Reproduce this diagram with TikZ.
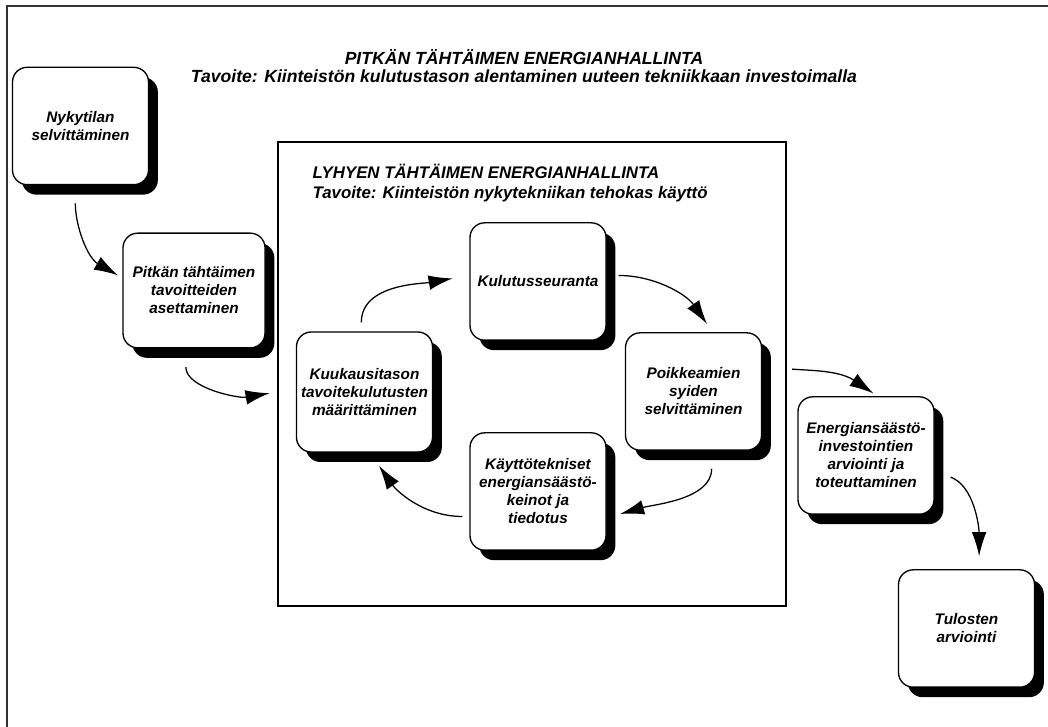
\documentclass[tikz,border=0pt]{standalone}
\usepackage{fontspec}
\setmainfont{Liberation Sans}
\usetikzlibrary{arrows.meta,shadows}

\begin{document}
\begin{tikzpicture}[x=0.75pt,y=0.75pt,
    font=\fontsize{11.5}{13.5}\selectfont\bfseries\itshape,
    box/.style={draw,line width=1pt,fill=white,rounded corners=11pt,align=center,
      minimum width=102pt,minimum height=88pt,inner sep=2pt,
      drop shadow={fill=black,opacity=1,shadow xshift=7pt,shadow yshift=-7.5pt}},
    flow/.style={-{Latex[length=18pt,width=11pt]},line width=0.95pt}]
    \useasboundingbox (0,0) rectangle (1048,727);
    \draw[line width=1.5pt,black!80] (7,-10) -- (7,721) -- (1060,721);
    \node[draw,line width=0.9pt,minimum width=381pt,minimum height=348pt] (lyhyt) at (532,353) {};
    \node[align=center,font=\fontsize{13.2}{13.5}\selectfont\bfseries\itshape] (pitkatitle) at (524,661) {PITKÄN TÄHTÄIMEN ENERGIANHALLINTA\\Tavoite: Kiinteistön kulutustason alentaminen uuteen tekniikkaan investoimalla};
    \node[anchor=west,align=left,font=\fontsize{12.6}{15}\selectfont\bfseries\itshape] (lyhyttitle) at (308,544) {LYHYEN TÄHTÄIMEN ENERGIANHALLINTA\\Tavoite: Kiinteistön nykytekniikan tehokas käyttö};
    \node[box] (nyk) at (80.5,601) {Nykytilan\\selvittäminen};
    \node[box,minimum width=106.5pt,minimum height=86pt] (pit) at (194,436.5) {Pitkän tähtäimen\\tavoitteiden\\asettaminen};
    \node[box] (kul) at (538,445.5) {Kulutusseuranta};
    \node[box,minimum height=90pt] (kuu) at (364.5,335) {Kuukausitason\\tavoitekulutusten\\määrittäminen};
    \node[box] (poi) at (693.5,335.5) {Poikkeamien\\syiden\\selvittäminen};
    \node[box] (kay) at (538,235.5) {Käyttötekniset\\energiansäästö-\\keinot ja\\tiedotus};
    \node[box] (ene) at (866,271.5) {Energiansäästö-\\investointien\\arviointi ja\\toteuttaminen};
    \node[box] (tul) at (966.5,98.5) {Tulosten\\arviointi};
    \draw[flow,shorten <=13.5pt,shorten >=3.75pt] (nyk.265) to[out=270,in=150] (pit.170);
    \draw[flow,shorten <=14pt,shorten >=6pt] (pit.262) to[out=270,in=190] (lyhyt.184);
    \draw[flow,shorten <=6.75pt,shorten >=12.75pt] (kuu.93) to[out=90,in=190] (kul.175);
    \draw[flow,shorten <=9pt,shorten >=7.5pt] (kul.5) to[out=0,in=125] (poi.72);
    \draw[flow,shorten <=13.5pt,shorten >=10.5pt] (poi.287) to[out=270,in=16] (kay.339);
    \draw[flow,shorten <=5.25pt,shorten >=12pt] (kay.200) to[out=180,in=305] (kuu.275);
    \draw[flow,shorten <=22.5pt,shorten >=3.75pt] (poi.20) to[out=-5,in=146] (ene.79);
    \draw[flow,shorten <=12.75pt,shorten >=9.75pt] (ene.347) to[out=-20,in=90] (tul.78);
\end{tikzpicture}
\end{document}
